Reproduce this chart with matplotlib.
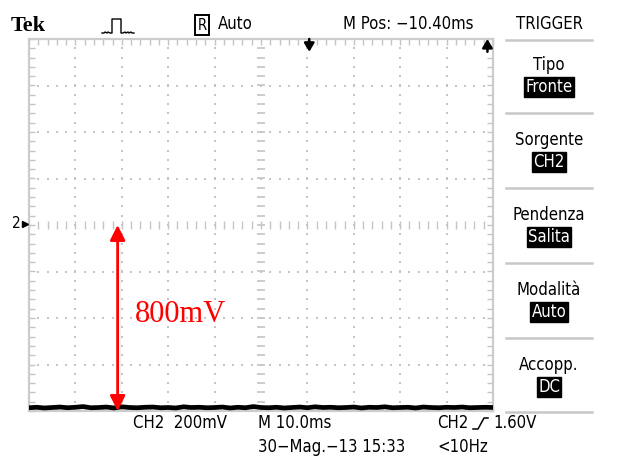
import numpy as np
import matplotlib
matplotlib.use("Agg")
import matplotlib.pyplot as plt
from matplotlib.lines import Line2D
from matplotlib import font_manager

# Screen capture: CH2 at 200 mV/div, 10 ms/div, ground marker at centre
volts_per_div = 0.2
ms_per_div = 10.0
m_pos_ms = -10.40
trig_level = "1.60V"

# CH2 trace (V), sampled across the 100 ms window
trace_t = np.linspace(0, 100, 61)
trace_v = [-0.786, -0.784, -0.787, -0.785, -0.783, -0.786, -0.784, -0.781, -0.786, -0.785,
           -0.783, -0.787, -0.782, -0.785, -0.786, -0.784, -0.783, -0.786, -0.785, -0.787,
           -0.782, -0.785, -0.784, -0.786, -0.785, -0.783, -0.787, -0.784, -0.786, -0.781,
           -0.785, -0.786, -0.784, -0.787, -0.785, -0.783, -0.786, -0.782, -0.785, -0.784,
           -0.786, -0.785, -0.783, -0.787, -0.784, -0.785, -0.782, -0.786, -0.785, -0.784,
           -0.787, -0.783, -0.785, -0.786, -0.784, -0.785, -0.783, -0.786, -0.785, -0.784,
           -0.785]

# annotated amplitude
delta_mv = 800
arrow_t = 19.1

menu_titles = ["Tipo", "Sorgente", "Pendenza", "Modalità", "Accopp."]
menu_values = ["Fronte", "CH2", "Salita", "Auto", "DC"]

W, H = 628, 457
fig = plt.figure(figsize=(W / 100, H / 100), dpi=100)
fig.patch.set_facecolor("white")

# narrow sans for the on-screen readouts, if a condensed face is around
if any("Condensed" in f.fname for f in font_manager.fontManager.ttflist):
    SCOPE = dict(family=["DejaVu Sans"], stretch="condensed", fontsize=12)
else:
    SCOPE = dict(family=["Liberation Sans"], fontsize=11.5)


def fx(x):
    return x / W


def fy(y):
    return 1 - y / H


def ftext(x, y, s, **kw):
    kw.setdefault("va", "center")
    for k, v in SCOPE.items():
        kw.setdefault(k, v)
    return fig.text(fx(x), fy(y), s, **kw)


def fline(xs, ys, **kw):
    fig.add_artist(Line2D([fx(v) for v in xs], [fy(v) for v in ys], **kw))


# graticule area
ax = fig.add_axes([fx(29), fy(411), (493 - 29) / W, (411 - 39) / H])
ax.set_xlim(0, 10 * ms_per_div)
ax.set_ylim(-4 * volts_per_div, 4 * volts_per_div)
grid_c = "#c4c4c4"
for s in ax.spines.values():
    s.set_color("#cccccc")
    s.set_linewidth(1.6)
ax.set_xticks([])
ax.set_yticks([])
ax.set_xticks(np.arange(0, 100.1, ms_per_div / 5), minor=True)
ax.set_yticks(np.arange(-0.8, 0.801, volts_per_div / 5), minor=True)
ax.tick_params(which="minor", direction="in", length=4, width=1.0, color=grid_c,
               top=True, right=True, labelbottom=False, labelleft=False)

# dotted division lines
sub_t = np.arange(0, 100.1, ms_per_div / 5)
sub_v = np.arange(-0.8, 0.801, volts_per_div / 5)
for k in range(1, 10):
    if k == 5:
        continue
    ax.plot(np.full(sub_v.size, k * ms_per_div), sub_v, ls="none", marker="s",
            ms=1.5, mew=0, color=grid_c)
for k in range(-3, 4):
    if k == 0:
        continue
    ax.plot(sub_t, np.full(sub_t.size, k * volts_per_div), ls="none", marker="s",
            ms=1.5, mew=0, color=grid_c)
# centre axes with finer ticks
ax.plot(np.full(sub_v.size, 50), sub_v, ls="none", marker="_", ms=6, mew=1.2, color=grid_c)
ax.plot(sub_t, np.zeros(sub_t.size), ls="none", marker="|", ms=6, mew=1.0, color=grid_c)

# waveform
ax.plot(trace_t, trace_v, color="black", lw=3.4, solid_joinstyle="miter", zorder=5)

# amplitude annotation
ax.annotate("", xy=(arrow_t, -delta_mv / 1000), xytext=(arrow_t, 0),
            arrowprops=dict(arrowstyle="<|-|>,head_length=0.9,head_width=0.45",
                            color="#ff0000", lw=2, shrinkA=0, shrinkB=0), zorder=6)
ax.text(22.8, -0.383, f"{delta_mv}mV", color="#ff0000", fontsize=22,
        family=["Liberation Serif", "DejaVu Serif"], va="center", ha="left")

# trigger position (top) and trigger level off-screen (top right)
trig_t = 50 - m_pos_ms
for t, up in [(trig_t, False), (98.8, True)]:
    y0, y1 = (0.80, 0.745) if not up else (0.745, 0.80)
    ax.annotate("", xy=(t, y1), xytext=(t, y0), annotation_clip=False,
                arrowprops=dict(arrowstyle="-|>,head_length=0.5,head_width=0.3",
                                color="black", lw=1.8, shrinkA=0, shrinkB=0))

# ground marker for CH2
ftext(16, 224, "2", fontsize=11, ha="center")
fig.add_artist(Line2D([fx(25)], [fy(224)], marker=">", ms=5, color="black"))

# header
ftext(11, 26, "Tek", fontsize=16, fontweight="bold", stretch="normal",
      family=["Liberation Serif", "DejaVu Serif"], ha="left")
fline([102, 104, 105, 107, 108, 110, 112, 112, 121, 121, 123, 125, 126, 128, 129, 131, 132, 134],
      [33, 33, 32, 33, 32, 33, 33, 19, 19, 33, 33, 32, 33, 32, 33, 32, 33, 33],
      color="black", lw=1.0)
ftext(202, 25, "R", fontsize=10.5, ha="center",
      bbox=dict(boxstyle="square,pad=0.15", fc="white", ec="black", lw=1.4))
ftext(218, 24, "Auto", ha="left")
ftext(343, 24, "M Pos: \u221210.40ms", ha="left")
ftext(550, 24, "TRIGGER", ha="center")

# trigger menu
sep_y = [40, 113, 188, 263, 338, 412]
for y in sep_y:
    fline([506, 592], [y, y], color="#c8c8c8", lw=1.8)
for i, (t, v) in enumerate(zip(menu_titles, menu_values)):
    yt = 65 + 75 * i
    ftext(549, yt, t, ha="center")
    ftext(549, yt + 22, v, ha="center", color="white",
          bbox=dict(boxstyle="square,pad=0.08", fc="black", ec="black"))

# status lines
ftext(133, 423, f"CH2  {int(volts_per_div * 1000)}mV", ha="left")
ftext(258, 423, f"M {ms_per_div:.1f}ms", ha="left")
ftext(437, 423, "CH2", ha="left")
fline([473, 478, 484, 488], [429, 429, 418, 418], color="black", lw=1.1)
ftext(493, 423, trig_level, ha="left")
ftext(258, 447, "30\u2212Mag.\u221213 15:33", ha="left")
ftext(437, 447, "<10Hz", ha="left")

fig.savefig("out.png", dpi=100, facecolor="white")
